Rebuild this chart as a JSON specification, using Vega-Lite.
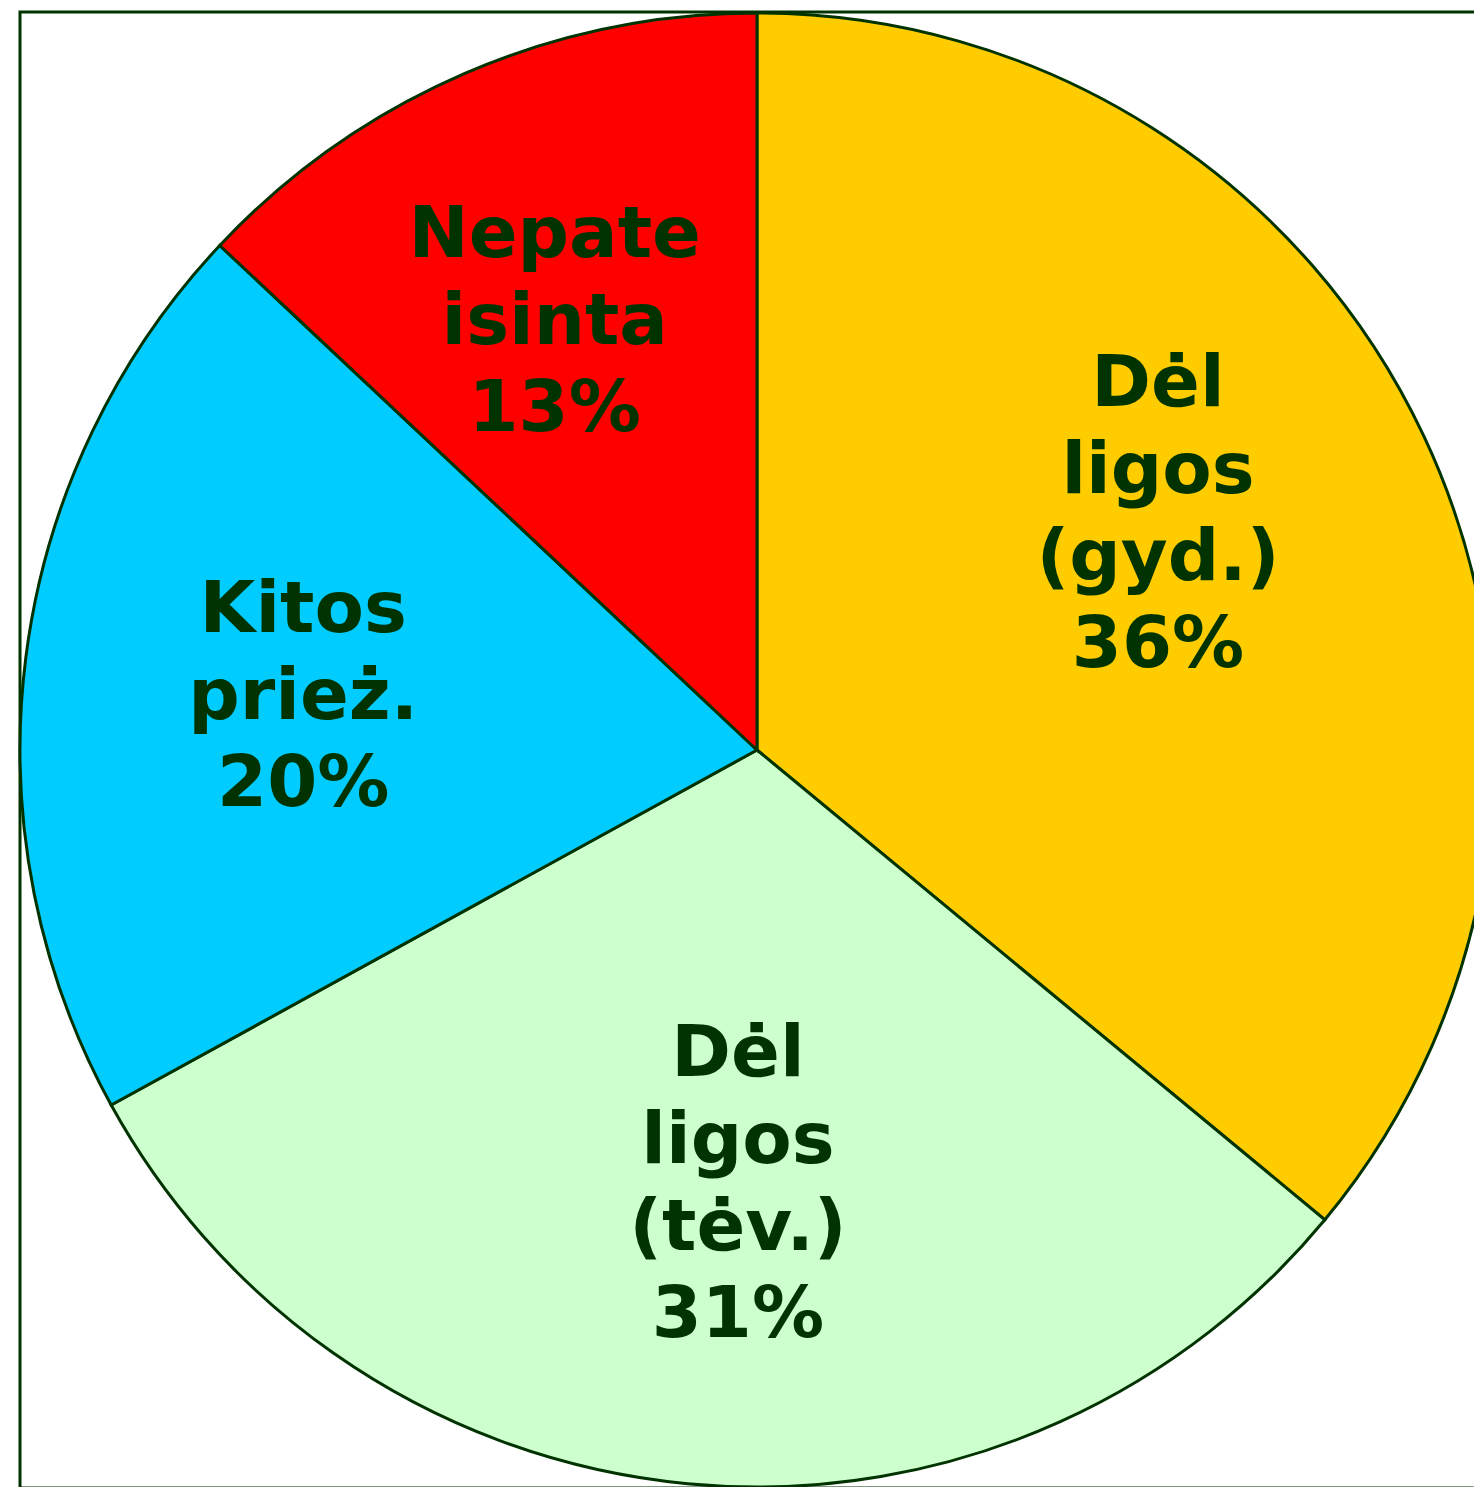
{
  "$schema": "https://vega.github.io/schema/vega-lite/v6.json",
  "autosize": "none",
  "padding": {"left": 20, "top": 12, "right": 0, "bottom": 0},
  "width": 1474,
  "height": 1476,
  "background": "white",
  "datasets": {
    "slices": [
      {"category": "Dėl ligos (gyd.)", "label": "Dėl\nligos\n(gyd.)\n36%", "value": 36, "order": 1},
      {"category": "Dėl ligos (tėv.)", "label": "Dėl\nligos\n(tėv.)\n31%", "value": 31, "order": 2},
      {"category": "Kitos priež.", "label": "Kitos\nprież.\n20%", "value": 20, "order": 3},
      {"category": "Nepateisinta", "label": "Nepate\nisinta\n13%", "value": 13, "order": 4}
    ],
    "frame": [{"name": "frame"}]
  },
  "resolve": {"scale": {"theta": "independent"}},
  "layer": [
    {
      "data": {"name": "frame"},
      "mark": {"type": "rect", "fill": "white", "stroke": "#003300", "strokeWidth": 3},
      "encoding": {}
    },
    {
      "data": {"name": "slices"},
      "mark": {"type": "arc", "radius": 737, "stroke": "#003300", "strokeWidth": 3},
      "encoding": {
        "theta": {"field": "value", "type": "quantitative", "stack": true},
        "order": {"field": "order", "type": "quantitative"},
        "color": {
          "field": "category",
          "type": "nominal",
          "scale": {
            "domain": ["Dėl ligos (gyd.)", "Dėl ligos (tėv.)", "Kitos priež.", "Nepateisinta"],
            "range": ["#FFCC00", "#CCFFCC", "#00CCFF", "#FF0000"]
          },
          "legend": null
        }
      }
    },
    {
      "data": {"name": "slices"},
      "mark": {
        "type": "text",
        "radius": 455,
        "font": "DejaVu Sans",
        "fontWeight": "bold",
        "fontSize": 72,
        "lineHeight": 87,
        "lineBreak": "\n",
        "color": "#003300",
        "align": "center",
        "baseline": "middle",
        "dy": {"expr": "-(length(split(datum.label, '\\n')) - 1) * 43.5 - 20"}
      },
      "encoding": {
        "theta": {
          "field": "value",
          "type": "quantitative",
          "stack": true,
          "scale": {"range": [-0.05236, 6.23083]}
        },
        "order": {"field": "order", "type": "quantitative"},
        "text": {"field": "label", "type": "nominal"}
      }
    }
  ]
}
